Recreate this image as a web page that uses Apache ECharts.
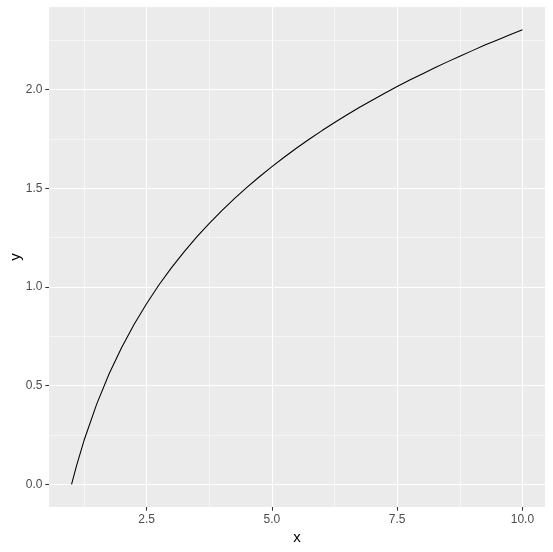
<!DOCTYPE html>
<html>
<head>
<meta charset="utf-8">
<script src="https://cdn.jsdelivr.net/npm/echarts@6/dist/echarts.min.js"></script>
<style>html,body{margin:0;padding:0;background:#fff}#c{width:553px;height:552px}</style>
</head>
<body>
<div id="c"></div>
<script>
// Values
var xValues = [1, 1.1, 1.25, 1.5, 1.75, 2, 2.25, 2.5, 2.75, 3, 3.25, 3.5, 3.75, 4, 4.25, 4.5, 4.75, 5, 5.25, 5.5, 5.75, 6, 6.25, 6.5, 6.75, 7, 7.25, 7.5, 7.75, 8, 8.25, 8.5, 8.75, 9, 9.25, 9.5, 9.75, 10];
var yValues = [0, 0.095, 0.223, 0.405, 0.560, 0.693, 0.811, 0.916, 1.012, 1.099, 1.179, 1.253, 1.322, 1.386, 1.447, 1.504, 1.558, 1.609, 1.658, 1.705, 1.749, 1.792, 1.833, 1.872, 1.910, 1.946, 1.981, 2.015, 2.048, 2.079, 2.110, 2.140, 2.169, 2.197, 2.225, 2.251, 2.277, 2.303];
var xTicks = [2.5, 5, 7.5, 10];
var yTicks = [0, 0.5, 1, 1.5, 2];
var xMinorGrid = [1.25, 3.75, 6.25, 8.75];
var yMinorGrid = [0.25, 0.75, 1.25, 1.75, 2.25];
var xTitle = 'x';
var yTitle = 'y';

var data = xValues.map(function (x, i) { return [x, yValues[i]]; });
var FONT = '"Liberation Sans", Arial, sans-serif';
var xMin = 0.55, xMax = 10.45, yMin = -0.115, yMax = 2.418;

var chart = echarts.init(document.getElementById('c'), null, {renderer: 'canvas'});
chart.setOption({
  animation: false,
  backgroundColor: '#ffffff',
  grid: {left: 49, right: 8, top: 7, bottom: 45, show: true, backgroundColor: '#EBEBEB', borderWidth: 0,
    containLabel: false, outerBoundsMode: 'none'},
  xAxis: [
    {
      type: 'value', min: xMin, max: xMax,
      axisLine: {show: false, onZero: false}, axisTick: {show: false, customValues: xMinorGrid}, axisLabel: {show: false, customValues: xMinorGrid},
      splitLine: {show: true, lineStyle: {color: '#ffffff', width: 0.55}}
    },
    {
      type: 'value', min: xMin, max: xMax, position: 'bottom',
      name: xTitle, nameLocation: 'middle', nameGap: 23, nameMoveOverlap: false,
      nameTextStyle: {color: '#000', fontSize: 15, fontFamily: FONT},
      axisLine: {show: false, onZero: false},
      axisTick: {show: true, length: 3.7, lineStyle: {color: '#333333', width: 1.07}, customValues: xTicks},
      axisLabel: {color: '#4D4D4D', fontSize: 12, fontFamily: FONT, margin: 6.3, customValues: xTicks,
        formatter: function (v) { return v.toFixed(1); }},
      splitLine: {show: true, lineStyle: {color: '#ffffff', width: 1.07}}
    }
  ],
  yAxis: [
    {
      type: 'value', min: yMin, max: yMax,
      axisLine: {show: false, onZero: false}, axisTick: {show: false, customValues: yMinorGrid}, axisLabel: {show: false, customValues: yMinorGrid},
      splitLine: {show: true, lineStyle: {color: '#ffffff', width: 0.55}}
    },
    {
      type: 'value', min: yMin, max: yMax, position: 'left',
      name: yTitle, nameLocation: 'middle', nameGap: 26, nameRotate: 90, nameMoveOverlap: false,
      nameTextStyle: {color: '#000', fontSize: 15, fontFamily: FONT},
      axisLine: {show: false, onZero: false},
      axisTick: {show: true, length: 3.7, lineStyle: {color: '#333333', width: 1.07}, customValues: yTicks},
      axisLabel: {color: '#4D4D4D', fontSize: 12, fontFamily: FONT, margin: 6.6, customValues: yTicks,
        formatter: function (v) { return v.toFixed(1); }},
      splitLine: {show: true, lineStyle: {color: '#ffffff', width: 1.07}}
    }
  ],
  series: [{
    type: 'line', xAxisIndex: 1, yAxisIndex: 1, data: data,
    showSymbol: false, smooth: false,
    lineStyle: {color: '#000000', width: 1.07}
  }]
});
</script>
</body>
</html>
